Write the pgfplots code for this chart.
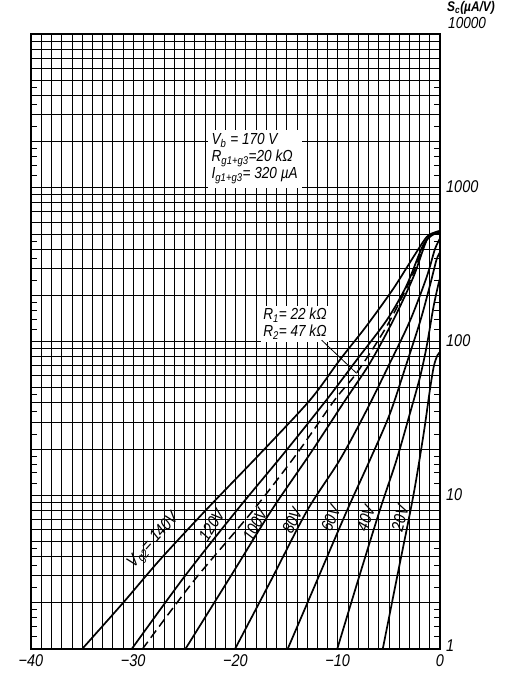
\documentclass[border=0pt]{standalone}
\usepackage{fontspec}
\setmainfont{Liberation Sans}[FakeStretch=0.85]
\usepackage{pgfplots}
\pgfplotsset{compat=1.18}
\begin{document}
\begin{tikzpicture}[x=1pt,y=1pt,font=\fontsize{17}{19}\selectfont\itshape]
\path[use as bounding box] (-31,-24) rectangle (494,649);
\begin{axis}[
  at={(0,0)}, anchor=south west,
  scale only axis, width=409pt, height=615pt,
  xmin=-40, xmax=0, ymin=1, ymax=10000, ymode=log,
  axis line style={line width=1.3pt},
  xtick={-40,-30,-20,-10,0},
  xticklabels={−40,−30,−20,−10,0},
  minor x tick num=9,
  ytick={1,10,100,1000,10000},
  yticklabels={{\raisebox{5pt}{1}},10,100,1000,{}},
  yticklabel pos=right,
  ytick pos=both,
  xticklabel style={anchor=base, inner sep=0pt, yshift=-18pt},
  yticklabel style={anchor=west, inner sep=0pt, xshift=6pt, yshift=1pt},
  grid=both,
  major x grid style={black, line width=0.6pt},
  minor x grid style={black, line width=0.6pt},
  major y grid style={black, line width=1.1pt},
  minor y grid style={black, line width=0.6pt},
  tick style={draw=none},
  extra y ticks={1.2,1.4,1.6,1.8,2.5,3.5,4.5,12,14,16,18,25,35,45,120,140,160,180,250,350,450,1200,1400,1600,1800,2500,3500,4500},
  extra y tick labels={},
  extra y tick style={grid=none, tick style={draw=black, line width=0.7pt}, major tick length=6pt, tick align=inside},
  clip=true,
]
% V_g2 = 140 V
\addplot[black, line width=1.7pt, smooth, tension=0.5] coordinates {
(-35.0,1) (-31.0,1.995) (-27.4,3.80) (-22.8,8.13) (-17.6,18.62) (-12.7,41.69)
(-9.8,75.86) (-7.2,125.9) (-4.6,218.8) (-2.6,354.8) (-1.3,478.6) (-0.5,512.9) (0,524.8)};
% 120 V
\addplot[black, line width=1.7pt, smooth, tension=0.5] coordinates {
(-30.15,1) (-25.0,2.951) (-19.9,7.94) (-15.3,18.62) (-11.1,41.69) (-8.15,75.86)
(-5.2,138.0) (-3.3,229.1) (-1.7,416.9) (-0.8,489.8) (0,512.9)};
% dashed R1/R2
\addplot[black, line width=1.5pt, smooth, tension=0.5, dash pattern=on 9pt off 5pt] coordinates {
(-29.1,1) (-24.0,2.818) (-18.3,7.94) (-14.0,18.62) (-10.3,41.69) (-8.1,63.10)
(-5.2,125.9) (-2.9,251.2) (-1.6,416.9) (-1.0,478.6)};
% 100 V
\addplot[black, line width=1.7pt, smooth, tension=0.5] coordinates {
(-24.9,1) (-20.5,2.951) (-16.5,7.94) (-12.7,18.62) (-9.45,39.81) (-6.85,72.44)
(-4.56,138.0) (-2.6,263.0) (-1.3,457.1) (-0.6,501.2) (0,501.2)};
% 80 V
\addplot[black, line width=1.7pt, smooth, tension=0.5] coordinates {
(-20.05,1) (-16.5,2.818) (-13.0,7.94) (-9.8,16.98) (-7.2,35.48) (-4.9,72.44)
(-2.9,138.0) (-1.3,263.0) (-0.5,398.1) (0,467.7)};
% 60 V
\addplot[black, line width=1.7pt, smooth, tension=0.5] coordinates {
(-14.9,1) (-12.0,2.818) (-9.1,7.94) (-6.85,16.98) (-4.9,33.88) (-3.25,72.44)
(-1.9,138.0) (-1.0,229.1) (-0.35,338.8) (0,380.2)};
% 40 V
\addplot[black, line width=1.7pt, smooth, tension=0.5] coordinates {
(-10.05,1) (-8.0,2.818) (-5.9,7.94) (-4.25,16.98) (-2.95,33.88) (-1.95,58.88)
(-1.3,93.33) (-0.65,166.0) (-0.2,229.1) (0,257.0)};
% 20 V
\addplot[black, line width=1.7pt, smooth, tension=0.5] coordinates {
(-5.6,1) (-4.1,3.162) (-2.6,10) (-1.6,25.12) (-1.0,47.86) (-0.6,69.18)
(-0.25,81.28) (0,85.11)};

% curve labels
\node[rotate=48] at (axis cs:-27.97,5.06) {V\textsubscript{g2}= 140V};
\node[rotate=58] at (axis cs:-22.33,6.40) {120V};
\node[rotate=62] at (axis cs:-18.09,6.40) {100V};
\node[rotate=65] at (axis cs:-14.45,6.83) {80V};
\node[rotate=67] at (axis cs:-10.69,7.08) {60V};
\node[rotate=70] at (axis cs:-7.27,7.08) {40V};
\node[rotate=75] at (axis cs:-3.91,7.08) {20V};

% annotations
\node[anchor=south east, fill=white, inner sep=4pt, align=left,
      font=\fontsize{16}{17}\selectfont\itshape] at (axis cs:-13.5,996)
  {V\textsubscript{b} = 170 V\\R\textsubscript{g1+g3}=20 kΩ\\I\textsubscript{g1+g3}= 320 µA};
\node[anchor=west, fill=white, inner sep=2pt, align=left,
      font=\fontsize{16}{17}\selectfont\itshape] at (axis cs:-17.5,130)
  {R\textsubscript{1}= 22 kΩ\\R\textsubscript{2}= 47 kΩ};
\draw[black, line width=0.8pt] (axis cs:-11.57,102) -- (axis cs:-8.15,62.1);

\node[anchor=base] at (axis cs:-35.5,1) [yshift=-18pt] {V\textsubscript{g1}(V)};
\end{axis}
\node[anchor=west, inner sep=0pt, font=\fontsize{16}{18}\selectfont\itshape] at (417,626) {10000};
\node[anchor=west, inner sep=0pt, font=\fontsize{14}{16}\selectfont\bfseries\itshape] at (416,641) {S\textsubscript{c}(µA/V)};
\end{tikzpicture}
\end{document}
